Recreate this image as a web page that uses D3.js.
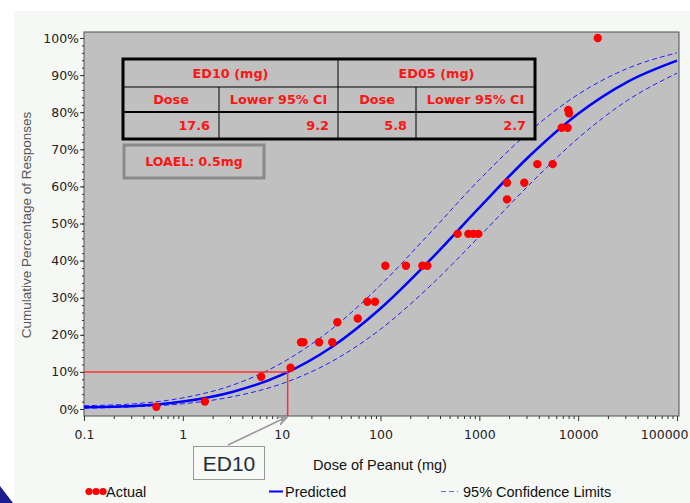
<!DOCTYPE html>
<html>
<head>
<meta charset="utf-8">
<script src="https://cdnjs.cloudflare.com/ajax/libs/d3/7.8.5/d3.min.js"></script>
<style>
  body { margin: 0; background: #fff; }
</style>
</head>
<body>
<div class="board"></div>
<script>
//Data
var actualDose = [0.54, 1.67, 6.2, 12.3, 15.7, 16.6, 23.9, 32.5, 36.6, 58.9, 73.6, 87.9,
                  112, 181, 265, 298, 603, 775, 871, 977, 1905, 1905, 2850, 3865,
                  5520, 6810, 7830, 7940, 8070, 15780];
var actualPct = [0.6, 2.0, 8.7, 11.1, 18.0, 18.0, 18.0, 18.0, 23.4, 24.4, 28.9, 28.9,
                 38.6, 38.6, 38.6, 38.6, 47.2, 47.2, 47.2, 47.2, 56.5, 61.0, 61.0, 66.0,
                 66.0, 75.8, 75.8, 80.6, 79.7, 100];

var curveDose = [0.1, 0.316, 1, 3.16, 10, 31.6, 100, 316, 1000, 3160, 10000, 31600, 100000];
var predicted = [0.5, 0.8, 2.0, 4.6, 9.2, 16.6, 27.1, 40.1, 54.3, 68.0, 79.6, 88.2, 93.9];
var upperCI = [0.9, 1.4, 3.0, 6.4, 12.4, 21.4, 33.4, 47.4, 61.8, 74.6, 84.8, 91.8, 96.0];
var lowerCI = [0.2, 0.6, 1.4, 3.3, 6.8, 12.7, 21.5, 33.1, 46.5, 60.3, 73.0, 83.2, 90.5];

var xTicks = [0.1, 1, 10, 100, 1000, 10000, 100000];
var xTickLabels = ['0.1', '1', '10', '100', '1000', '10000', '100000'];
var yTicks = [0, 10, 20, 30, 40, 50, 60, 70, 80, 90, 100];

var ed10Marker = {dose: 11.5, pct: 10};

var tableTop = ['ED10 (mg)', 'ED05 (mg)'];
var tableSub = ['Dose', 'Lower 95% CI', 'Dose', 'Lower 95% CI'];
var tableVals = ['17.6', '9.2', '5.8', '2.7'];
var loaelText = 'LOAEL: 0.5mg';

//Static variables
var static = {
  width: 690,
  height: 503,
  plotL: 84, plotR: 679, plotT: 32, plotB: 416,
  red: '#ff0000',
  blue: '#0000ff',
  plotBg: '#c0c0c0',
  sans: '"Liberation Sans", Arial, sans-serif',
  wide: '"DejaVu Sans", Verdana, sans-serif'
};

var x = d3.scaleLog().domain([0.1, 100000]).range([84, 677]);
var y = d3.scaleLinear().domain([0, 100]).range([409, 38]);

var svg = d3.select('.board').append('svg')
            .attr('width', static.width)
            .attr('height', static.height)
            .attr('font-family', static.sans);

//page panel
svg.append('rect').attr('x', 14).attr('y', 11)
   .attr('width', static.width - 14).attr('height', static.height - 11)
   .attr('fill', '#f5f8f5');
svg.append('path').attr('d', 'M0,486 L13,503 L0,503 Z').attr('fill', '#1c1c8e');

//plot area
svg.append('rect')
   .attr('x', static.plotL).attr('y', static.plotT)
   .attr('width', static.plotR - static.plotL)
   .attr('height', static.plotB - static.plotT)
   .attr('fill', static.plotBg)
   .attr('stroke', '#505050')
   .attr('stroke-width', 1);

//x axis: major + minor ticks
var xMinor = [];
for (var e = -1; e < 5; e++) {
  for (var m = 2; m < 10; m++) xMinor.push(m * Math.pow(10, e));
}
var xAxisG = svg.append('g').attr('transform', 'translate(0,' + static.plotB + ')');
xAxisG.call(d3.axisBottom(x).tickValues(xMinor).tickSize(3).tickSizeOuter(0).tickFormat(''));
xAxisG.append('g').call(d3.axisBottom(x).tickValues(xTicks).tickSize(5).tickSizeOuter(0)
      .tickFormat(function(d, i) { return xTickLabels[i]; }));
xAxisG.selectAll('.domain').remove();
xAxisG.selectAll('line').attr('stroke', '#333');
xAxisG.selectAll('text')
      .attr('y', 14)
      .attr('font-family', static.wide)
      .attr('font-size', 12.5)
      .attr('fill', '#222');
//last label sits flush to the right edge
xAxisG.selectAll('.tick text').filter(function(d) { return d === 100000; })
      .attr('text-anchor', 'end').attr('x', 11);

//y axis
var yMinor = d3.range(0, 101, 2);
var yAxisG = svg.append('g').attr('transform', 'translate(' + static.plotL + ',0)');
yAxisG.call(d3.axisLeft(y).tickValues(yMinor).tickSize(2).tickSizeOuter(0).tickFormat(''));
yAxisG.append('g').call(d3.axisLeft(y).tickValues(yTicks).tickSize(4).tickSizeOuter(0)
      .tickFormat(function(d) { return d + '%'; }));
yAxisG.selectAll('.domain').remove();
yAxisG.selectAll('line').attr('stroke', '#333');
yAxisG.selectAll('text')
      .attr('x', -5)
      .attr('font-family', static.wide)
      .attr('font-size', 12.5)
      .attr('fill', '#222');

//axis titles
svg.append('text')
   .attr('transform', 'translate(31,225) rotate(-90)')
   .attr('text-anchor', 'middle')
   .attr('font-size', 13.5)
   .attr('fill', '#555')
   .text('Cumulative Percentage of Responses');
svg.append('text')
   .attr('x', 380).attr('y', 470)
   .attr('text-anchor', 'middle')
   .attr('font-size', 14.5)
   .attr('fill', '#111')
   .text('Dose of Peanut (mg)');

//curves
svg.append('clipPath').attr('id', 'plotclip').append('rect')
   .attr('x', static.plotL).attr('y', static.plotT)
   .attr('width', static.plotR - static.plotL)
   .attr('height', static.plotB - static.plotT);

var line = function(vals) {
  return d3.line()
           .x(function(d, i) { return x(curveDose[i]); })
           .y(function(d) { return y(d); })
           .curve(d3.curveMonotoneX)(vals);
};
var curves = svg.append('g').attr('clip-path', 'url(#plotclip)');
curves.append('path').attr('d', line(upperCI))
      .attr('fill', 'none').attr('stroke', '#2020ff')
      .attr('stroke-width', 1).attr('stroke-dasharray', '5,3');
curves.append('path').attr('d', line(lowerCI))
      .attr('fill', 'none').attr('stroke', '#2020ff')
      .attr('stroke-width', 1).attr('stroke-dasharray', '5,3');
curves.append('path').attr('d', line(predicted))
      .attr('fill', 'none').attr('stroke', static.blue)
      .attr('stroke-width', 2.5);

//ED10 guide lines
svg.append('path')
   .attr('d', 'M' + static.plotL + ',' + y(ed10Marker.pct) +
              'H' + x(ed10Marker.dose) + 'V' + static.plotB)
   .attr('fill', 'none')
   .attr('stroke', '#ff3030')
   .attr('stroke-width', 1.5);

//actual points
svg.append('g').selectAll('circle')
   .data(actualDose)
   .enter()
   .append('circle')
   .attr('cx', function(d) { return x(d); })
   .attr('cy', function(d, i) { return y(actualPct[i]); })
   .attr('r', 4.2)
   .attr('fill', static.red);

//summary table
var tb = {l: 123, r: 535, rows: [59, 87, 112, 139], cols: [123, 219, 338, 416, 535]};
var table = svg.append('g')
               .attr('font-family', static.wide)
               .attr('font-weight', 'bold')
               .attr('font-size', 12.8)
               .attr('fill', '#ff1414');
table.append('rect')
     .attr('x', tb.l).attr('y', tb.rows[0])
     .attr('width', tb.r - tb.l).attr('height', tb.rows[3] - tb.rows[0])
     .attr('fill', static.plotBg).attr('stroke', '#000').attr('stroke-width', 3);
table.append('line').attr('x1', tb.l).attr('x2', tb.r).attr('y1', tb.rows[1]).attr('y2', tb.rows[1])
     .attr('stroke', '#000').attr('stroke-width', 1);
table.append('line').attr('x1', tb.l).attr('x2', tb.r).attr('y1', tb.rows[2]).attr('y2', tb.rows[2])
     .attr('stroke', '#000').attr('stroke-width', 2);
table.append('line').attr('x1', tb.cols[2]).attr('x2', tb.cols[2]).attr('y1', tb.rows[0]).attr('y2', tb.rows[3])
     .attr('stroke', '#000').attr('stroke-width', 1);
[1, 3].forEach(function(c) {
  table.append('line').attr('x1', tb.cols[c]).attr('x2', tb.cols[c]).attr('y1', tb.rows[1]).attr('y2', tb.rows[3])
       .attr('stroke', '#000').attr('stroke-width', 1);
});
table.selectAll('.top').data(tableTop).enter().append('text')
     .attr('x', function(d, i) { return (tb.cols[i * 2] + tb.cols[i * 2 + 2]) / 2; })
     .attr('y', 78)
     .attr('text-anchor', 'middle')
     .text(function(d) { return d; });
table.selectAll('.sub').data(tableSub).enter().append('text')
     .attr('x', function(d, i) { return (tb.cols[i] + tb.cols[i + 1]) / 2; })
     .attr('y', 104)
     .attr('text-anchor', 'middle')
     .text(function(d) { return d; });
table.selectAll('.val').data(tableVals).enter().append('text')
     .attr('x', function(d, i) { return tb.cols[i + 1] - 9; })
     .attr('y', 130)
     .attr('text-anchor', 'end')
     .text(function(d) { return d; });

//LOAEL box
svg.append('rect')
   .attr('x', 124).attr('y', 145).attr('width', 140).attr('height', 33)
   .attr('fill', static.plotBg).attr('stroke', '#8a8a8a').attr('stroke-width', 3);
svg.append('text')
   .attr('x', 194).attr('y', 166)
   .attr('text-anchor', 'middle')
   .attr('font-family', static.wide)
   .attr('font-weight', 'bold')
   .attr('font-size', 12.5)
   .attr('fill', '#ff1414')
   .text(loaelText);

//ED10 callout
svg.append('defs').append('marker')
   .attr('id', 'arrow').attr('viewBox', '0 0 10 10')
   .attr('refX', 9).attr('refY', 5)
   .attr('markerWidth', 7).attr('markerHeight', 7)
   .attr('orient', 'auto')
   .append('path').attr('d', 'M0,1 L10,5 L0,9')
   .attr('fill', 'none').attr('stroke', '#999').attr('stroke-width', 1.5);
svg.append('line')
   .attr('x1', 228).attr('y1', 445)
   .attr('x2', x(ed10Marker.dose) - 1).attr('y2', static.plotB + 1)
   .attr('stroke', '#999').attr('stroke-width', 1.5)
   .attr('marker-end', 'url(#arrow)');
svg.append('rect')
   .attr('x', 193.5).attr('y', 446.5).attr('width', 71).attr('height', 33)
   .attr('fill', '#f8faf8').attr('stroke', '#999').attr('stroke-width', 1);
svg.append('text')
   .attr('x', 229).attr('y', 471)
   .attr('text-anchor', 'middle')
   .attr('font-size', 21)
   .attr('fill', '#1e2c3e')
   .text('ED10');

//legend
var legend = svg.append('g').attr('font-size', 14.5).attr('fill', '#111');
legend.selectAll('circle').data([89, 96, 103]).enter().append('circle')
      .attr('cx', function(d) { return d; }).attr('cy', 491.5).attr('r', 3.6)
      .attr('fill', static.red);
legend.append('text').attr('x', 106).attr('y', 497).text('Actual');
legend.append('line').attr('x1', 269).attr('x2', 283).attr('y1', 491.5).attr('y2', 491.5)
      .attr('stroke', static.blue).attr('stroke-width', 2);
legend.append('text').attr('x', 285).attr('y', 497).text('Predicted');
legend.append('line').attr('x1', 441).attr('x2', 458).attr('y1', 491.5).attr('y2', 491.5)
      .attr('stroke', '#6a6aff').attr('stroke-width', 1).attr('stroke-dasharray', '5,3');
legend.append('text').attr('x', 463).attr('y', 497).text('95% Confidence Limits');
</script>
</body>
</html>
